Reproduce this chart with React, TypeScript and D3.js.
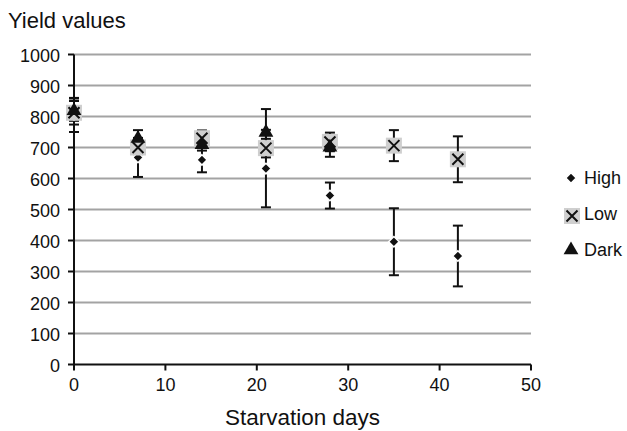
import React from 'react';
import * as d3 from 'd3';

// values
const days = [0, 7, 14, 21, 28, 35, 42];
const highValues = [805, 668, 660, 632, 545, 396, 350];
const highErrors = [55, 63, 40, 125, 42, 108, 98];
const lowValues = [812, 700, 730, 698, 718, 706, 662];
const lowErrors = [38, 30, 25, 30, 30, 50, 74];
const darkDays = [0, 7, 14, 21, 28];
const darkValues = [822, 732, 712, 752, 704];
const darkErrors = [36, 24, 22, 72, 34];
const yTicks = [0, 100, 200, 300, 400, 500, 600, 700, 800, 900, 1000];
const xTicks = [0, 10, 20, 30, 40, 50];
const legendItems = ['High', 'Low', 'Dark'];

const width = 627;
const height = 431;
const margin = { top: 54.5, right: 96, bottom: 66.5, left: 74 };
const font = '"Liberation Sans", Arial, sans-serif';

const x = d3.scaleLinear().domain([0, 50]).range([margin.left, width - margin.right]);
const y = d3.scaleLinear().domain([0, 1000]).range([height - margin.bottom, margin.top]);

const diamond = d3.symbol().type(d3.symbolDiamond2).size(70)() as string;
const triangle = d3.symbol().type(d3.symbolTriangle).size(95)() as string;

function ErrorBar({ cx, v, e }: { cx: number; v: number; e: number }) {
  return (
    <g stroke="#111" strokeWidth={2}>
      <line x1={cx} x2={cx} y1={y(v + e)} y2={y(v - e)} />
      <line x1={cx - 5} x2={cx + 5} y1={y(v + e)} y2={y(v + e)} />
      <line x1={cx - 5} x2={cx + 5} y1={y(v - e)} y2={y(v - e)} />
    </g>
  );
}

function HighMark({ cx, cy }: { cx: number; cy: number }) {
  return <path d={diamond} transform={`translate(${cx},${cy})`} fill="#111" stroke="#fff" strokeWidth={1.5} />;
}

function LowMark({ cx, cy }: { cx: number; cy: number }) {
  return (
    <g transform={`translate(${cx},${cy})`}>
      <rect x={-8} y={-8} width={16} height={16} fill="#cfcfcf" />
      <path d="M-5.5,-5.5L5.5,5.5M5.5,-5.5L-5.5,5.5" stroke="#111" strokeWidth={2} />
    </g>
  );
}

function DarkMark({ cx, cy }: { cx: number; cy: number }) {
  return <path d={triangle} transform={`translate(${cx},${cy + 1})`} fill="#111" />;
}

export default function App() {
  const y0 = y(0);
  return (
    <svg width={width} height={height} style={{ position: 'absolute', left: 0, top: 0 }} fontFamily={font}>
      <rect width={width} height={height} fill="#fff" />
      <text x={8} y={28} fontSize={22} fill="#111">Yield values</text>

      {/* gridlines */}
      {yTicks.filter(t => t > 0).map(t => (
        <line key={t} x1={x(0)} x2={x(50)} y1={y(t)} y2={y(t)} stroke="#a3a3a3" strokeWidth={2} />
      ))}

      {/* y axis */}
      <line x1={x(0)} x2={x(0)} y1={y(1000)} y2={y0} stroke="#111" strokeWidth={2} />
      {yTicks.map(t => (
        <g key={t}>
          <line x1={x(0) - 6} x2={x(0)} y1={y(t)} y2={y(t)} stroke="#111" strokeWidth={2} />
          <text x={x(0) - 14} y={y(t) + 7} textAnchor="end" fontSize={18} fill="#111">{t}</text>
        </g>
      ))}

      {/* x axis */}
      <line x1={x(0)} x2={x(50)} y1={y0} y2={y0} stroke="#111" strokeWidth={2} />
      {xTicks.map(t => (
        <g key={t}>
          <line x1={x(t)} x2={x(t)} y1={y0} y2={y0 + 6} stroke="#111" strokeWidth={2} />
          <text x={x(t)} y={y0 + 26} textAnchor="middle" fontSize={18} fill="#111">{t}</text>
        </g>
      ))}
      <text x={(x(0) + x(50)) / 2} y={y0 + 60} textAnchor="middle" fontSize={22.5} fill="#111">Starvation days</text>

      {/* error bars */}
      {days.map((d, i) => <ErrorBar key={'he' + d} cx={x(d)} v={highValues[i]} e={highErrors[i]} />)}
      {days.map((d, i) => <ErrorBar key={'le' + d} cx={x(d)} v={lowValues[i]} e={lowErrors[i]} />)}
      {darkDays.map((d, i) => <ErrorBar key={'de' + d} cx={x(d)} v={darkValues[i]} e={darkErrors[i]} />)}

      {/* markers */}
      {days.map((d, i) => <HighMark key={'h' + d} cx={x(d)} cy={y(highValues[i])} />)}
      {days.map((d, i) => <LowMark key={'l' + d} cx={x(d)} cy={y(lowValues[i])} />)}
      {darkDays.map((d, i) => <DarkMark key={'d' + d} cx={x(d)} cy={y(darkValues[i])} />)}

      {/* legend */}
      {legendItems.map((name, i) => {
        const ly = 178 + i * 36;
        return (
          <g key={name}>
            {name === 'High' && <HighMark cx={571} cy={ly} />}
            {name === 'Low' && <LowMark cx={572} cy={ly + 2} />}
            {name === 'Dark' && <DarkMark cx={571} cy={ly - 1} />}
            <text x={584} y={ly + 6} fontSize={18} fill="#111">{name}</text>
          </g>
        );
      })}
    </svg>
  );
}
